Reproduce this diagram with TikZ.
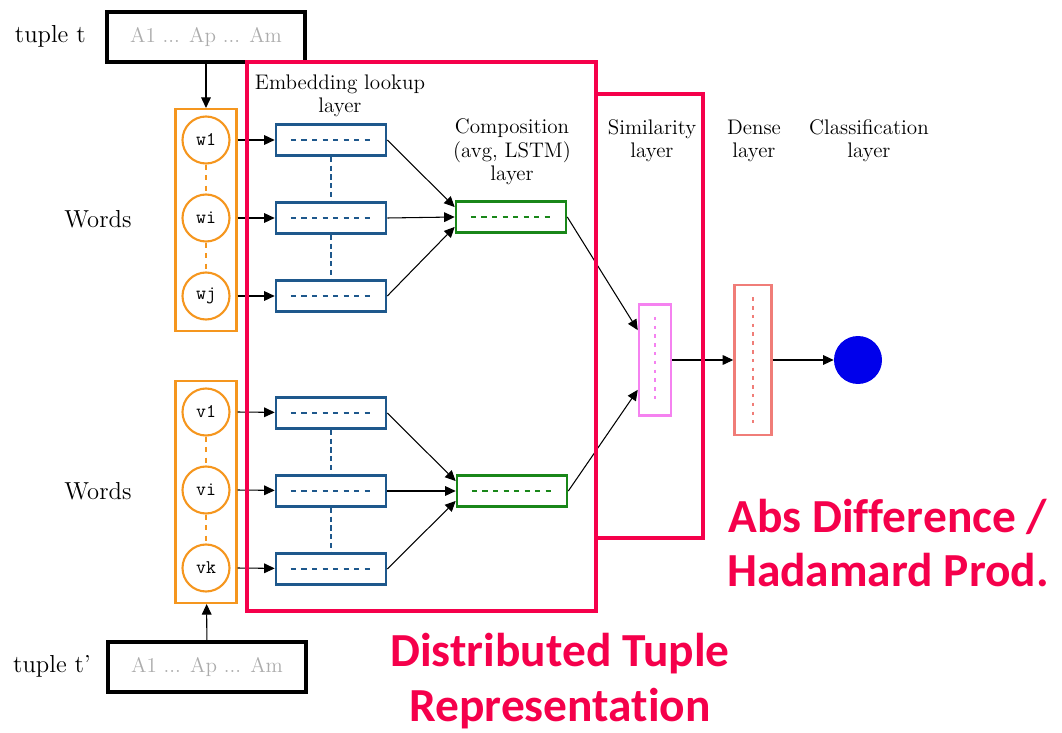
\documentclass[tikz,border=0pt]{standalone}
\usepackage{fontspec}
\newfontfamily\calfont[Ligatures=NoCommon]{Carlito}
\usetikzlibrary{arrows.meta}
\definecolor{wordorange}{RGB}{245,150,30}
\definecolor{embblue}{RGB}{30,88,140}
\definecolor{compgreen}{RGB}{25,135,25}
\definecolor{simpink}{RGB}{245,130,240}
\definecolor{densered}{RGB}{240,125,120}
\definecolor{frame}{RGB}{245,0,75}
\definecolor{outblue}{RGB}{0,0,235}
\tikzset{
  tuplebox/.style={draw, line width=1.8pt, minimum width=3.96cm, minimum height=1cm,
    text=gray!65, font=\fontsize{12}{14}\selectfont},
  wordcol/.style={draw=wordorange, line width=1.2pt, minimum width=1.22cm, minimum height=4.44cm},
  word/.style={circle, draw=wordorange, line width=1.2pt, minimum size=0.94cm, inner sep=0pt,
    font=\ttfamily\fontsize{11}{13}\selectfont},
  embbox/.style={draw=embblue, line width=1.5pt, minimum width=2.2cm, minimum height=0.62cm,
    path picture={\draw[embblue, line width=1.1pt, dash pattern=on 3pt off 3pt]
      ([xshift=8.5pt]path picture bounding box.west) -- ([xshift=-8.5pt]path picture bounding box.east);}},
  compbox/.style={embbox, draw=compgreen,
    path picture={\draw[compgreen, line width=1.1pt, dash pattern=on 3pt off 3pt]
      ([xshift=8.5pt]path picture bounding box.west) -- ([xshift=-8.5pt]path picture bounding box.east);}},
  vbox/.style={draw=#1, line width=1.4pt, minimum width=0.64cm,
    path picture={\draw[#1, line width=1.4pt, dash pattern=on 2pt off 3pt]
      ([yshift=-7pt]path picture bounding box.north) -- ([yshift=7pt]path picture bounding box.south);}},
  lbl/.style={align=center, font=\fontsize{12}{13.3}\selectfont},
  bigred/.style={text=frame, align=center, font=\calfont\bfseries\fontsize{27}{31}\selectfont},
  arr/.style={-{Triangle[length=6pt,width=5.5pt]}, line width=0.6pt},
  frm/.style={draw=frame, line width=2.3pt}
}
\begin{document}
\begin{tikzpicture}[x=0.02cm, y=-0.02cm]
\useasboundingbox (0,0) rectangle (1062,733);

% input tuples
\node[tuplebox] (tt) at (206,37) {A1 ... Ap ... Am};
\node[tuplebox] (ttp) at (207,667) {A1 ... Ap ... Am};
\node[anchor=east, font=\fontsize{14}{16}\selectfont] (ttlbl) at (92,36) {tuple t};
\node[anchor=east, font=\fontsize{14}{16}\selectfont] (ttplbl) at (97,666) {tuple t'};

% words
\node[wordcol] (topcol) at (206,220) {};
\node[wordcol] (botcol) at (206,492) {};
\node[word] (w1) at (206,140) {w1};
\node[word] (wi) at (206,218) {wi};
\node[word] (wj) at (206,296) {wj};
\node[word] (v1) at (206,412) {v1};
\node[word] (vi) at (206,490) {vi};
\node[word] (vk) at (206,568) {vk};
\node[font=\fontsize{14}{16}\selectfont] (wlbl1) at (98,219) {Words};
\node[font=\fontsize{14}{16}\selectfont] (wlbl2) at (98,491) {Words};
\draw[wordorange, line width=1.2pt, dashed] (w1) -- (wi) (wi) -- (wj);
\draw[wordorange, line width=1.2pt, dashed] (v1) -- (vi) (vi) -- (vk);
\draw[arr] (tt) -- (topcol);
\draw[arr] (ttp) -- (botcol);

% embedding lookup
\node[embbox] (e1) at (331,140) {};
\node[embbox] (e2) at (331,218) {};
\node[embbox] (e3) at (331,296) {};
\node[embbox] (e4) at (331,413) {};
\node[embbox] (e5) at (331,491) {};
\node[embbox] (e6) at (331,569) {};
\foreach \w/\e in {w1/e1, wi/e2, wj/e3, v1/e4, vi/e5, vk/e6}
  \draw[arr] (\w -| topcol.east) -- (\e);
\draw[embblue, line width=1.3pt, dash pattern=on 3pt off 2pt]
  (e1) -- (e2) (e2) -- (e3) (e4) -- (e5) (e5) -- (e6);

% composition
\node[compbox] (c1) at (511,217) {};
\node[compbox] (c2) at (512,491) {};
\draw[arr] (e1.east) -- (c1.170);
\draw[arr] (e2.east) -- (c1.west);
\draw[arr] (e3.east) -- (c1.190);
\draw[arr] (e4.east) -- (c2.170);
\draw[arr] (e5.east) -- (c2.west);
\draw[arr] (e6.east) -- (c2.190);

% similarity, dense, output
\node[vbox=simpink, minimum height=2.22cm] (sim) at (655,360) {};
\node[vbox=densered, minimum height=3cm, minimum width=0.74cm] (dense) at (753,360) {};
\node[circle, fill=outblue, minimum size=0.96cm] (out) at (858,360) {};
\draw[arr] (c1.east) -- (sim.120);
\draw[arr] (c2.east) -- (sim.240);
\draw[arr] (sim) -- (dense);
\draw[arr] (dense) -- (out);

% layer labels
\node[lbl] (lemb) at (340,96) {Embedding lookup\\layer};
\node[lbl] (lcomp) at (512,152) {Composition\\(avg, LSTM)\\layer};
\node[lbl] (lsim) at (652,141) {Similarity\\layer};
\node[lbl] (ldense) at (754,141) {Dense\\layer};
\node[lbl] (lcls) at (869,141) {Classification\\layer};

% red frames
\draw[frm] (247,62) rectangle (596,611);
\draw[frm] (596,94) rectangle (703,538);
\node[bigred] (absdiff) at (888,543) {Abs Difference /\\Hadamard Prod.};
\node[bigred] (distrep) at (560,681) {Distributed Tuple\\Representation};
\end{tikzpicture}
\end{document}
